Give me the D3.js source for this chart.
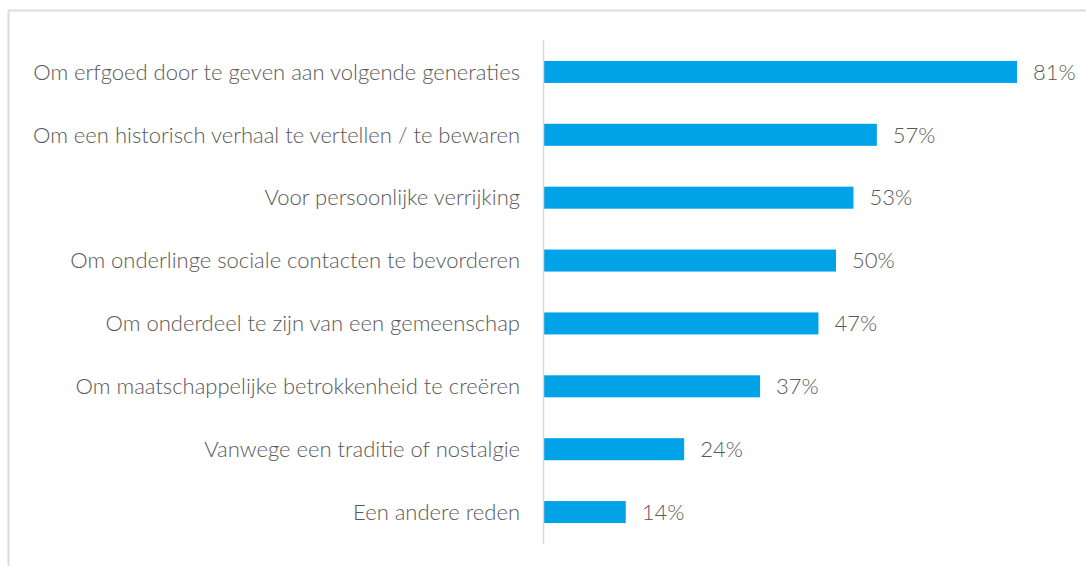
<!DOCTYPE html>
<html><head><meta charset="utf-8">
<script src="https://cdn.jsdelivr.net/npm/d3@7"></script>
<style>
html,body{margin:0;padding:0;background:#fff;}
svg{display:block;}
</style></head>
<body>
<svg id="chart" width="1086" height="566"></svg>
<script>
const categories = [
  "Om erfgoed door te geven aan volgende generaties",
  "Om een historisch verhaal te vertellen / te bewaren",
  "Voor persoonlijke verrijking",
  "Om onderlinge sociale contacten te bevorderen",
  "Om onderdeel te zijn van een gemeenschap",
  "Om maatschappelijke betrokkenheid te creëren",
  "Vanwege een traditie of nostalgie",
  "Een andere reden"
];
const values = [81, 57, 53, 50, 47, 37, 24, 14];

const svg = d3.select("#chart");
const W = 1086, H = 566;
const axisX = 543.5;
const font = "Lato, 'Open Sans', sans-serif";

// frame
svg.append("line").attr("x1", 8).attr("x2", W).attr("y1", 10.5).attr("y2", 10.5)
  .attr("stroke", "#dcdcdc").attr("stroke-width", 2);
svg.append("line").attr("x1", 8.5).attr("x2", 8.5).attr("y1", 10).attr("y2", H)
  .attr("stroke", "#dcdcdc").attr("stroke-width", 2);

const x = d3.scaleLinear().domain([0, 81]).range([544, 1017]);
const y = d3.scaleBand().domain(categories).range([40.5, 543.5]).paddingInner(0.65).paddingOuter(0.325);

// bars
svg.append("g").selectAll("rect").data(values).join("rect")
  .attr("x", x(0))
  .attr("y", (d, i) => y(categories[i]))
  .attr("width", d => x(d) - x(0))
  .attr("height", y.bandwidth())
  .attr("fill", "#00a2e8");

// axis line
svg.append("line").attr("x1", axisX).attr("x2", axisX).attr("y1", 40).attr("y2", 544)
  .attr("stroke", "#d9d9d9").attr("stroke-width", 1.5);

// category labels
const labels = svg.append("g").selectAll("text").data(categories).join("text")
  .attr("x", 520)
  .attr("y", d => y(d) + y.bandwidth() / 2)
  .attr("dy", "0.35em")
  .attr("text-anchor", "end")
  .attr("fill", "#595959")
  .attr("font-family", font)
  .attr("font-weight", 300)
  .attr("font-size", 20)
  .text(d => d);

// fit font size so longest label spans ~487px
const w0 = labels.nodes()[0].getComputedTextLength();
const fs = 20 * 487 / w0;
labels.attr("font-size", fs);

// value labels
svg.append("g").selectAll("text").data(values).join("text")
  .attr("x", d => x(d) + 16)
  .attr("y", (d, i) => y(categories[i]) + y.bandwidth() / 2)
  .attr("dy", "0.35em")
  .attr("fill", "#595959")
  .attr("font-family", font)
  .attr("font-weight", 300)
  .attr("font-size", fs)
  .text(d => d + "%");
</script>
</body></html>
